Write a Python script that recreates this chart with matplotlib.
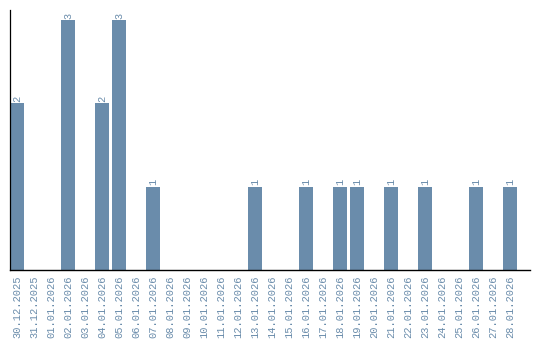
import matplotlib
matplotlib.use("Agg")
import matplotlib.pyplot as plt

dates = ["30.12.2025", "31.12.2025", "01.01.2026", "02.01.2026", "03.01.2026",
         "04.01.2026", "05.01.2026", "06.01.2026", "07.01.2026", "08.01.2026",
         "09.01.2026", "10.01.2026", "11.01.2026", "12.01.2026", "13.01.2026",
         "14.01.2026", "15.01.2026", "16.01.2026", "17.01.2026", "18.01.2026",
         "19.01.2026", "20.01.2026", "21.01.2026", "22.01.2026", "23.01.2026",
         "24.01.2026", "25.01.2026", "26.01.2026", "27.01.2026", "28.01.2026"]
counts = [2, 0, 0, 3, 0, 2, 3, 0, 1, 0, 0, 0, 0, 0, 1,
          0, 0, 1, 0, 1, 1, 0, 1, 0, 1, 0, 0, 1, 0, 1]

color = "#6a8cab"
fig = plt.figure(figsize=(5.4, 3.4), dpi=100)
ax = fig.add_axes([10/540, 70/340, 520/540, 260/340])
x = list(range(len(dates)))
ax.bar(x, counts, width=14/17, color=color)
for xi, v in zip(x, counts):
    if v > 0:
        ax.text(xi, v + 0.015, str(v), rotation=90, ha="center", va="bottom",
                fontsize=7.5, color=color, family="Liberation Mono")
ax.set_xlim(-0.41, 30.18)
ax.set_ylim(0, 3.12)
ax.set_xticks(x)
ax.set_xticklabels(dates, rotation=90, fontsize=7.5, color=color, family="Liberation Mono")
ax.tick_params(axis="x", length=0, pad=4)
ax.set_yticks([])
ax.spines["top"].set_visible(False)
ax.spines["right"].set_visible(False)
ax.spines["left"].set_linewidth(0.9)
ax.spines["bottom"].set_linewidth(1.0)
fig.savefig("out.png", dpi=100)
